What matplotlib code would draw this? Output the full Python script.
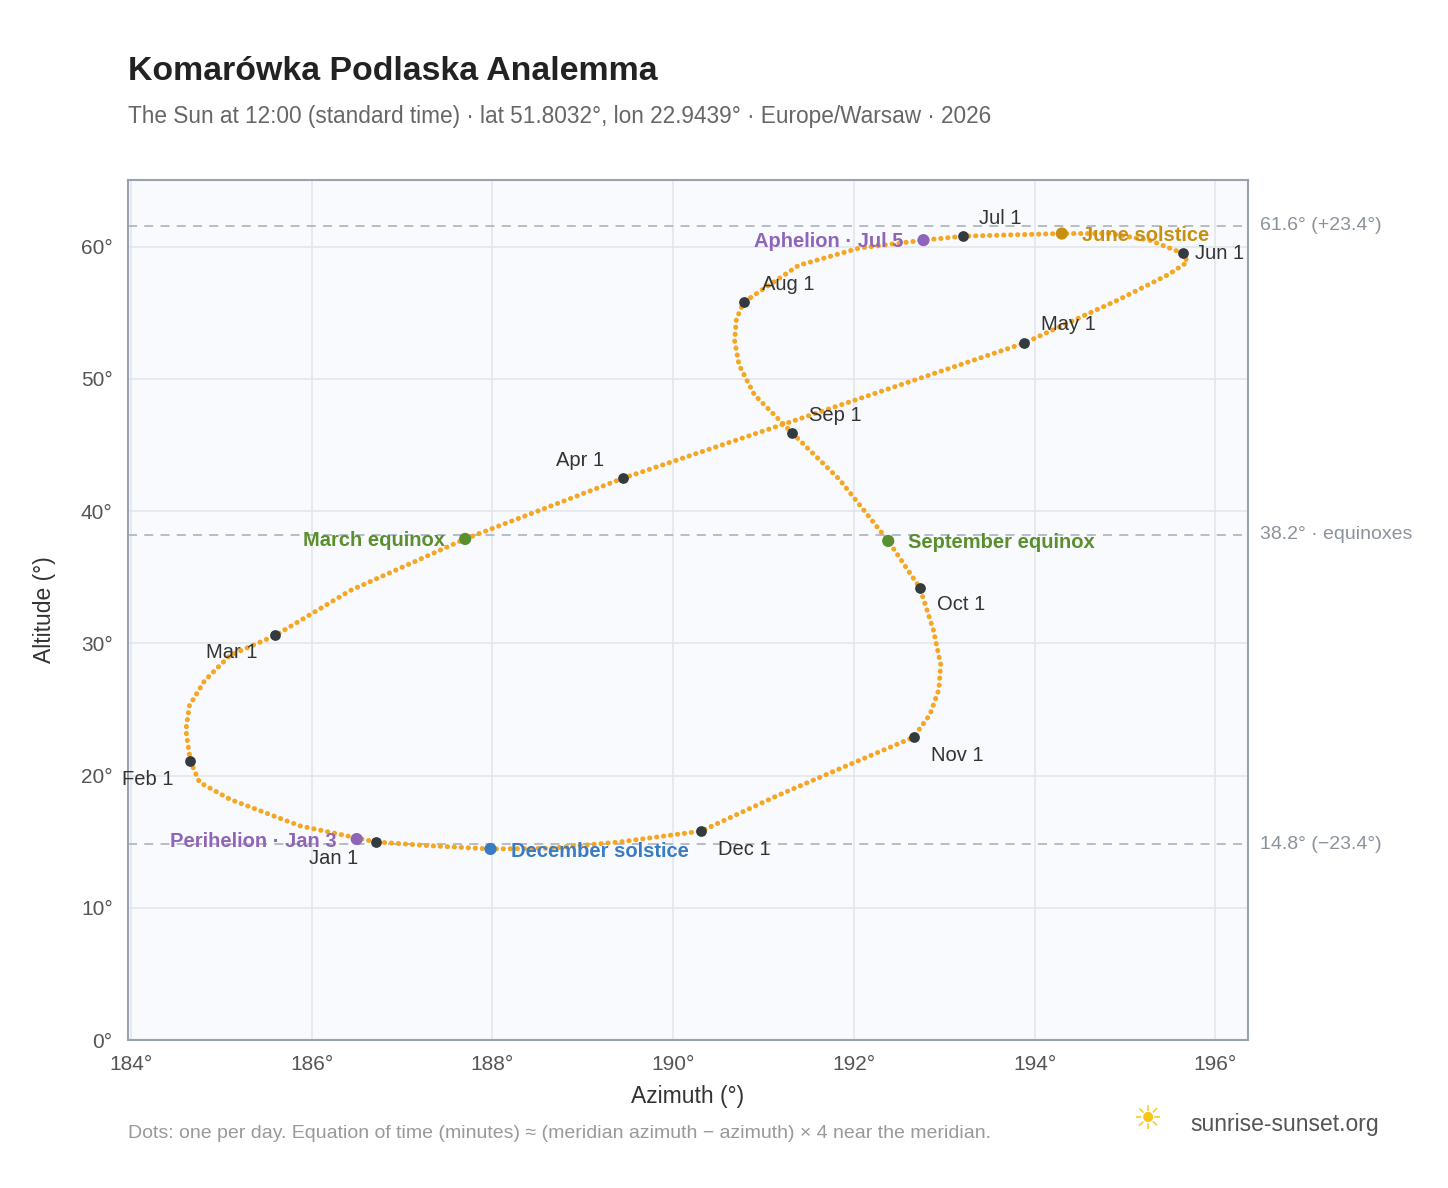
import matplotlib
matplotlib.use("Agg")
import matplotlib.pyplot as plt
plt.rcParams['font.family'] = ['Liberation Sans', 'DejaVu Sans']

# Sun positions, in date order (Jan 1 ... Dec 31)
az = [186.71,185.87,185.10,184.76,184.66,184.61,184.65,184.82,185.10,185.60,186.43,187.70,189.45,
      193.88,194.93,195.48,195.69,195.64,195.27,194.83,194.30,193.21,192.77,192.06,191.39,190.78,
      190.70,190.68,190.73,190.90,191.32,191.84,192.38,192.73,192.88,192.96,192.94,192.84,192.66,
      191.94,191.16,190.31,189.41,188.63,187.98,187.30,186.71]
alt = [14.98,16.2,18.2,19.5,21.1,23.45,25.3,27.2,29.1,30.6,34.0,37.9,42.5,
       52.7,56.0,57.9,58.85,59.5,60.5,61.0,61.0,60.8,60.5,59.9,58.6,55.8,
       54.5,52.9,51.05,48.8,45.9,42.4,37.75,34.2,31.0,28.4,26.5,24.6,22.9,
       20.8,18.5,15.8,14.98,14.5,14.45,14.7,14.98]

month_labels = ["Jan 1","Feb 1","Mar 1","Apr 1","May 1","Jun 1","Jul 1","Aug 1","Sep 1","Oct 1","Nov 1","Dec 1"]
month_az = [186.71,184.66,185.60,189.45,193.88,195.64,193.21,190.78,191.32,192.73,192.66,190.31]
month_alt = [14.98,21.1,30.6,42.5,52.7,59.5,60.8,55.8,45.9,34.2,22.9,15.8]
month_off = [(-67,-17),(-68,-18),(-69,-17),(-67,18),(17,19),(12,0),(16,18),(18,18),(17,18),(17,-17),(17,-18),(17,-18)]

events = ["March equinox","June solstice","September equinox","December solstice","Perihelion · Jan 3","Aphelion · Jul 5"]
ev_az = [187.70,194.30,192.38,187.98,186.50,192.77]
ev_alt = [37.9,61.0,37.75,14.45,15.2,60.5]
ev_col = ["#5a8f2e","#c8900e","#5a8f2e","#3a7cc4","#8e65b8","#8e65b8"]
ev_off = [(-20,-2),(20,-2),(20,-2),(21,-3),(-20,-2),(-20,-1)]
ev_ha = ["right","left","left","left","right","right"]

ref_lines = [61.6,38.2,14.8]
ref_labels = ["61.6° (+23.4°)","38.2° · equinoxes","14.8° (−23.4°)"]

fig = plt.figure(figsize=(14.48,11.88), dpi=100)
ax = fig.add_axes([128/1448,148/1188,1120/1448,860/1188])
ax.set_facecolor("#f8fafd")
ax.set_xlim(183.97,196.36)
ax.set_ylim(0,65.05)
ax.set_xticks(range(184,197,2))
ax.set_xticklabels([f"{v}°" for v in range(184,197,2)])
ax.set_yticks(range(0,61,10))
ax.set_yticklabels([f"{v}°" for v in range(0,61,10)])
ax.grid(color="#e3e7ec", lw=1.2)
ax.set_axisbelow(True)
for s in ax.spines.values():
    s.set_color("#9aa3ad"); s.set_linewidth(1.5)
ax.tick_params(axis="y", colors="#555", labelsize=15, length=0, pad=11)
ax.tick_params(axis="x", colors="#555", labelsize=15, length=0, pad=11)
ax.set_xlabel("Azimuth (°)", fontsize=16.5, color="#333", labelpad=8)
ax.set_ylabel("Altitude (°)", fontsize=16.5, color="#333", labelpad=18)

for y, lab in zip(ref_lines, ref_labels):
    ax.axhline(y, color="#b0b8c4", ls=(0,(5,4)), lw=1.3)
    ax.annotate(lab, (1,y), xycoords=("axes fraction","data"), xytext=(12,0), textcoords="offset pixels",
                va="center", fontsize=14, color="#8a929c", annotation_clip=False)

ax.plot(az, alt, color="#f5a623", lw=3.6, ls=(0,(0.05,1.35)), dash_capstyle="round", zorder=3)
ax.scatter(month_az, month_alt, s=45, color="#333a40", zorder=5)
for l, x, y, o in zip(month_labels, month_az, month_alt, month_off):
    ax.annotate(l, (x,y), xytext=o, textcoords="offset pixels", fontsize=14.5, color="#333", va="center", zorder=6)
ax.scatter(ev_az, ev_alt, s=60, color=ev_col, zorder=5)
for l, x, y, c, o, h in zip(events, ev_az, ev_alt, ev_col, ev_off, ev_ha):
    ax.annotate(l, (x,y), xytext=o, textcoords="offset pixels", fontsize=14.5, color=c, ha=h,
                fontweight="bold", va="center", zorder=6)

fig.text(128/1448, 1-72/1188, "Komarówka Podlaska Analemma", fontsize=24.4, fontweight="bold", color="#222", va="center")
fig.text(128/1448, 1-116/1188, "The Sun at 12:00 (standard time) · lat 51.8032°, lon 22.9439° · Europe/Warsaw · 2026",
         fontsize=16.3, color="#666", va="center")
fig.text(128/1448, 1-1133/1188, "Dots: one per day. Equation of time (minutes) ≈ (meridian azimuth − azimuth) × 4 near the meridian.",
         fontsize=14, color="#999", va="center")
fig.text(1190/1448, 1-1125/1188, "sunrise-sunset.org", fontsize=16.5, color="#555", va="center")
fig.text(1147/1448, 1-1120/1188, "☀", fontsize=24, color="#f5c518", ha="center", va="center", family="DejaVu Sans")
fig.savefig("out.png", dpi=100)
